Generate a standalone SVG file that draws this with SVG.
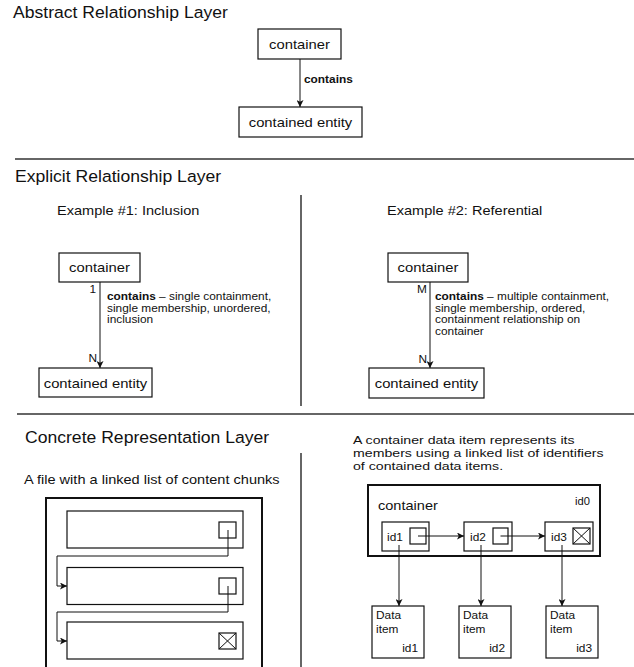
<svg xmlns="http://www.w3.org/2000/svg" width="634" height="667" viewBox="0 0 634 667">
<style>
text{font-family:"Liberation Sans",Arial,sans-serif;fill:#111}
.h{font-size:15.7px}
.sub{font-size:13px}
.par{font-size:11.6px}
.lbl{font-size:13.2px;text-anchor:middle}
.sm{font-size:10.6px}
.b{font-weight:bold}
.end{text-anchor:end}
.box{fill:#fff;stroke:#111;stroke-width:1.2}
.thick{fill:none;stroke:#111;stroke-width:2}
.ln{fill:none;stroke:#111;stroke-width:1}
.sep{stroke:#333;stroke-width:1.5}
</style>
<defs>
<marker id="arr" viewBox="0 0 8 8" refX="8" refY="4" markerWidth="7" markerHeight="7" markerUnits="userSpaceOnUse" orient="auto">
<path d="M0,0 L8,4 L0,8 L2,4 z" fill="#111"/>
</marker>
</defs>

<g id="separators">
<line class="sep" x1="15" y1="159" x2="634" y2="159"/>
<line class="sep" x1="17" y1="414" x2="634" y2="414"/>
<line class="sep" x1="301" y1="195" x2="301" y2="406"/>
<line class="sep" x1="301" y1="453" x2="301" y2="667"/>
</g>

<g id="titles">
<text class="h" transform="translate(13,18) scale(1.12,1)">Abstract Relationship Layer</text>
<text class="h" transform="translate(15,182) scale(1.12,1)">Explicit Relationship Layer</text>
<text class="sub" transform="translate(57,215) scale(1.12,1)">Example #1: Inclusion</text>
<text class="sub" transform="translate(387,215) scale(1.12,1)">Example #2: Referential</text>
<text class="h" transform="translate(25,443) scale(1.12,1)">Concrete Representation Layer</text>
<text class="sub" transform="translate(24,484) scale(1.12,1)">A file with a linked list of content chunks</text>
<text class="par" transform="translate(353,444) scale(1.22,1)">A container data item represents its</text>
<text class="par" transform="translate(353,457) scale(1.22,1)">members using a linked list of identifiers</text>
<text class="par" transform="translate(353,470) scale(1.22,1)">of contained data items.</text>
</g>

<!-- Abstract layer -->
<g id="abs-container">
<rect class="box" x="258" y="29" width="83" height="30"/>
<text class="lbl" transform="translate(299.5,49) scale(1.12,1)">container</text>
</g>
<g id="abs-contained">
<rect class="box" x="239" y="107" width="123" height="30"/>
<text class="lbl" transform="translate(300.5,127) scale(1.12,1)">contained entity</text>
</g>

<!-- Example 1 -->
<g id="ex1-container">
<rect class="box" x="59" y="253" width="81" height="29"/>
<text class="lbl" transform="translate(99.5,272) scale(1.12,1)">container</text>
</g>
<g id="ex1-contained">
<rect class="box" x="39" y="368" width="113" height="29"/>
<text class="lbl" transform="translate(95.5,387.5) scale(1.12,1)">contained entity</text>
</g>

<!-- Example 2 -->
<g id="ex2-container">
<rect class="box" x="388" y="253" width="80" height="29"/>
<text class="lbl" transform="translate(428,272) scale(1.12,1)">container</text>
</g>
<g id="ex2-contained">
<rect class="box" x="369" y="368" width="115" height="30"/>
<text class="lbl" transform="translate(426.5,388) scale(1.12,1)">contained entity</text>
</g>

<!-- Concrete: file -->
<g id="file">
<rect class="thick" x="46" y="498" width="216" height="185"/>
</g>
<g id="chunk1">
<rect class="box" x="67" y="511" width="176" height="37"/>
<rect class="box" x="219" y="522" width="17" height="16"/>
</g>
<g id="chunk2">
<rect class="box" x="67" y="567.5" width="176" height="37"/>
<rect class="box" x="219" y="578" width="17" height="16"/>
</g>
<g id="chunk3">
<rect class="box" x="67" y="622" width="176" height="37"/>
<rect class="box" x="219" y="633" width="17" height="16"/>
<path class="ln" d="M219,633 L236,649 M236,633 L219,649"/>
</g>

<!-- Concrete: container data item -->
<g id="data-container">
<rect class="thick" x="368" y="485" width="232" height="71"/>
<text class="sub" transform="translate(378,510) scale(1.12,1)">container</text>
<text class="sm" transform="translate(575,505) scale(1.12,1)" style="font-size:10px">id0</text>
</g>
<g id="id1">
<rect class="box" x="382" y="522" width="47" height="29"/>
<text class="sm" transform="translate(387,541) scale(1.12,1)">id1</text>
<rect class="box" x="410" y="528" width="16" height="16"/>
</g>
<g id="id2">
<rect class="box" x="464" y="522" width="48" height="29"/>
<text class="sm" transform="translate(470,541) scale(1.12,1)">id2</text>
<rect class="box" x="493" y="528" width="15" height="16"/>
</g>
<g id="id3">
<rect class="box" x="545" y="522" width="48" height="29"/>
<text class="sm" transform="translate(551,541) scale(1.12,1)">id3</text>
<rect class="box" x="573" y="528" width="17" height="16"/>
<path class="ln" d="M573,528 L590,544 M590,528 L573,544"/>
</g>
<g id="item1">
<rect class="box" x="372" y="606" width="52" height="52"/>
<text class="sm" transform="translate(376,619) scale(1.12,1)">Data</text>
<text class="sm" transform="translate(376,633) scale(1.12,1)">item</text>
<text class="sm end" transform="translate(418,652) scale(1.12,1)">id1</text>
</g>
<g id="item2">
<rect class="box" x="459" y="606" width="52" height="52"/>
<text class="sm" transform="translate(463,619) scale(1.12,1)">Data</text>
<text class="sm" transform="translate(463,633) scale(1.12,1)">item</text>
<text class="sm end" transform="translate(505,652) scale(1.12,1)">id2</text>
</g>
<g id="item3">
<rect class="box" x="546" y="606" width="52" height="52"/>
<text class="sm" transform="translate(550,619) scale(1.12,1)">Data</text>
<text class="sm" transform="translate(550,633) scale(1.12,1)">item</text>
<text class="sm end" transform="translate(592,652) scale(1.12,1)">id3</text>
</g>

<g id="connectors">
<line class="ln" x1="300" y1="59" x2="300" y2="107" marker-end="url(#arr)"/>
<text class="sm b" transform="translate(304,83) scale(1.12,1)">contains</text>

<line class="ln" x1="100" y1="282" x2="100" y2="368" marker-end="url(#arr)"/>
<text class="sm end" transform="translate(96,293) scale(1.12,1)">1</text>
<text class="sm end" transform="translate(97,362) scale(1.12,1)">N</text>
<text class="sm" transform="translate(107,300) scale(1.12,1)"><tspan class="b">contains</tspan> – single containment,</text>
<text class="sm" transform="translate(107,311.5) scale(1.12,1)">single membership, unordered,</text>
<text class="sm" transform="translate(107,323) scale(1.12,1)">inclusion</text>

<line class="ln" x1="430" y1="282" x2="430" y2="368" marker-end="url(#arr)"/>
<text class="sm end" transform="translate(427,293) scale(1.12,1)">M</text>
<text class="sm end" transform="translate(427,363) scale(1.12,1)">N</text>
<text class="sm" transform="translate(435,300) scale(1.12,1)"><tspan class="b">contains</tspan> – multiple containment,</text>
<text class="sm" transform="translate(435,311.5) scale(1.12,1)">single membership, ordered,</text>
<text class="sm" transform="translate(435,323) scale(1.12,1)">containment relationship on</text>
<text class="sm" transform="translate(435,334.5) scale(1.12,1)">container</text>

<path class="ln" d="M228,530 V556 H57 V586 H67" marker-end="url(#arr)"/>
<path class="ln" d="M228,586 V612 H57 V641 H67" marker-end="url(#arr)"/>

<path class="ln" d="M418,536 H464" marker-end="url(#arr)"/>
<path class="ln" d="M500.5,536 H545" marker-end="url(#arr)"/>
<line class="ln" x1="399" y1="545" x2="399" y2="606" marker-end="url(#arr)"/>
<line class="ln" x1="481" y1="545" x2="481" y2="606" marker-end="url(#arr)"/>
<line class="ln" x1="562" y1="545" x2="562" y2="606" marker-end="url(#arr)"/>
</g>
</svg>
